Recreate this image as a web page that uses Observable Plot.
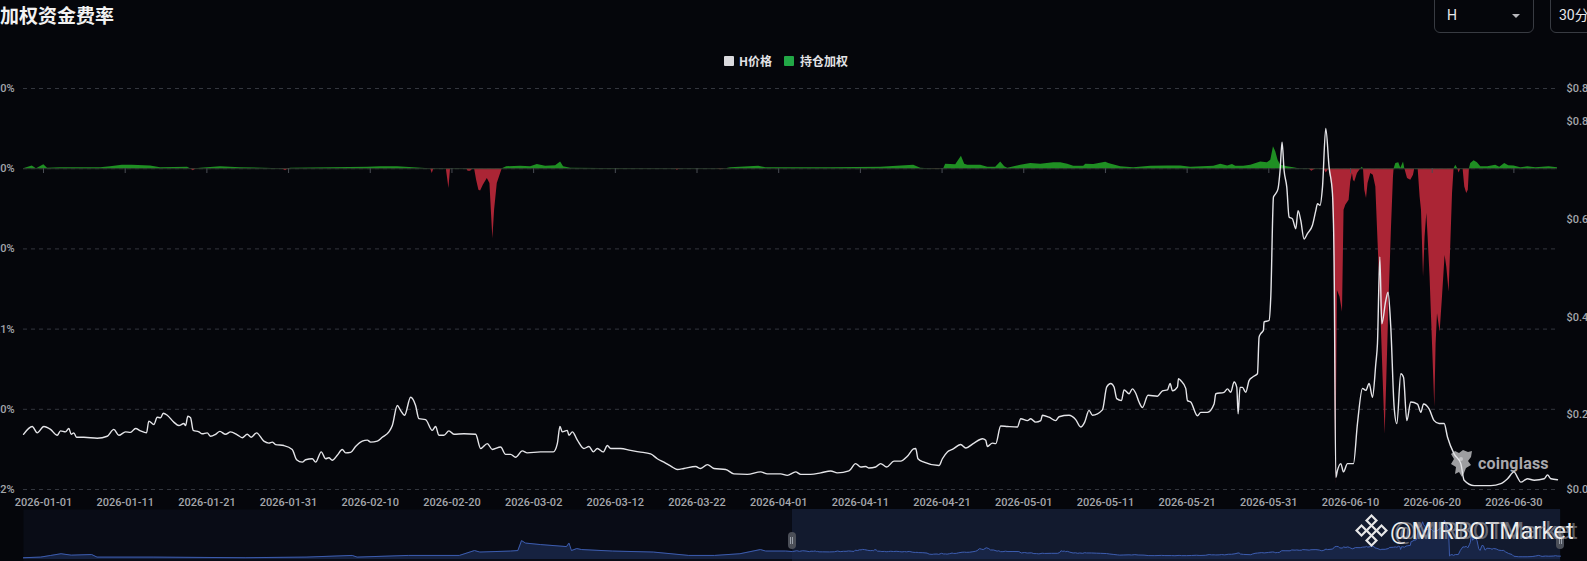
<!DOCTYPE html>
<html>
<head>
<meta charset="utf-8">
<script src="https://cdn.jsdelivr.net/npm/d3@7"></script>
<script src="https://cdn.jsdelivr.net/npm/@observablehq/plot@0.6"></script>
<style>
  html, body { margin:0; padding:0; background:#05060b; width:1587px; height:561px; overflow:hidden; }
  #root { position:relative; width:1587px; height:561px; overflow:hidden; font-family: Roboto, "Noto Sans CJK SC", sans-serif; }
  .abs { position:absolute; }
  #title { left:0; top:4px; font: 700 19px/22px "Noto Sans CJK SC", sans-serif; color:#f2f2f2; white-space:nowrap; }
  .lg-sq { position:absolute; width:10px; height:10px; border-radius:1px; }
  .lg-tx { position:absolute; font: 700 12px/14px "Noto Sans CJK SC", sans-serif; color:#e2e2e6; white-space:nowrap; }
  .box { position:absolute; top:-6px; height:37px; border:1px solid #383b42; border-radius:6px; }
  .boxtx { position:absolute; font: 400 14px/16px Roboto, "Noto Sans CJK SC", sans-serif; color:#e8e8ea; white-space:nowrap; }
  .handle { position:absolute; width:8px; height:17px; border-radius:4px; background:#4b4f58; }
  .handle::before, .handle::after { content:""; position:absolute; top:5px; width:1px; height:7px; background:#9aa0aa; }
  .handle::before { left:2.5px; } .handle::after { left:4.5px; }
</style>
</head>
<body>
<div id="root"></div>
<script>
// ---------------- data ----------------
// day offsets are days since 2026-01-01 00:00 UTC
const xTickLabels = ["2026-01-01","2026-01-11","2026-01-21","2026-01-31","2026-02-10","2026-02-20","2026-03-02","2026-03-12","2026-03-22","2026-04-01","2026-04-11","2026-04-21","2026-05-01","2026-05-11","2026-05-21","2026-05-31","2026-06-10","2026-06-20","2026-06-30"];

// OI-weighted funding rate, in %
const rateSeries = [[-2.45,0],[-1.38,0.00035],[-0.86,0],[0.04,0.00048],[0.49,0.00006],[2.08,0.00013],[6.98,0.00013],[8.20,0.00025],[9.64,0.00044],[10.86,0.00044],[13.10,0.00035],[14.33,0.00013],[17.63,0.00019],[18.0,0],[18.33,-0.00025],[18.7,0],[19.22,0.00006],[21.67,0.00025],[24.12,0.00013],[29.2,0],[29.63,-0.00025],[30.0,0],[30.24,0.00006],[35.14,0.00013],[39.67,0.00019],[41.26,0.00023],[43.35,0.00023],[46.77,0.00003],[47.39,0],[47.59,-0.0006],[47.79,0],[49.31,0],[49.63,-0.00248],[49.83,0],[51.79,0],[51.98,-0.00031],[52.28,-0.00031],[52.61,0],[52.77,0],[53.02,-0.00144],[53.30,-0.00269],[53.51,-0.00278],[53.84,-0.00206],[54.33,-0.00123],[54.65,-0.00185],[54.82,-0.00519],[55.01,-0.00873],[55.22,-0.00519],[55.55,-0.00185],[55.96,-0.0006],[56.16,0],[56.69,0.00025],[58.40,0.00031],[59.63,0.00025],[60.45,0.00053],[61.47,0.00031],[62.69,0.00038],[63.30,0.00085],[63.67,0.00025],[64.53,0.00006],[68.20,0.00003],[77.3,0],[77.59,-0.00019],[78.00,0],[82.41,0],[82.89,-0.00013],[83.51,0],[84.12,0.00013],[87.55,0.00031],[88.40,0.00013],[92.69,0.00013],[96.37,0.00013],[102.48,0.00019],[106.53,0.00044],[107.38,0.00006],[108.5,0],[109.22,-0.00006],[110.20,0],[110.44,0.00056],[111.67,0.0005],[112.37,0.00156],[112.77,0.00056],[113.14,0.00044],[114.73,0.00044],[115.59,0.00019],[116.57,0.00019],[117.18,0.00085],[117.67,0.00023],[118.04,0.00006],[119.63,0.00044],[120.85,0.00065],[122.08,0.00056],[123.67,0.00073],[124.53,0.00073],[125.38,0.00056],[126.12,0.00031],[127.34,0.00031],[127.59,0.00056],[128.57,0.00053],[130.04,0.00081],[130.40,0.00065],[131.87,0.00023],[133.46,0.00013],[135.54,0.00031],[137.63,0.00035],[139.22,0.00035],[140.44,0.00019],[143.26,0.00031],[144.12,0.00056],[144.97,0.00035],[145.55,0.00053],[145.95,0.00031],[146.93,0.00031],[147.79,0.00044],[149.01,0.00085],[149.83,0.00073],[150.24,0.00106],[150.57,0.00273],[150.85,0.0021],[151.13,0.00106],[151.46,0.00044],[152.28,0.00023],[153.05,0.00013],[153.67,0],[154.89,0],[155.26,-0.00031],[155.75,0],[156.73,0],[157.03,-0.00053],[157.38,0],[157.79,-0.00269],[157.99,-0.00935],[158.20,-0.03956],[158.40,-0.01519],[158.72,-0.01603],[159.02,-0.0179],[159.21,-0.00519],[159.42,-0.00456],[159.83,-0.00394],[160.03,-0.00165],[160.24,-0.0006],[160.36,-0.00144],[160.52,-0.00165],[160.85,-0.0006],[161.26,0],[161.44,0.00019],[161.59,0],[161.75,-0.00269],[161.96,-0.00373],[162.15,-0.00185],[162.48,-0.0006],[162.79,-0.00081],[163.10,-0.00228],[163.38,-0.00935],[163.71,-0.01769],[163.99,-0.02603],[164.24,-0.0331],[164.45,-0.02603],[164.73,-0.01603],[165.02,-0.00728],[165.26,-0.00103],[165.34,0],[165.55,0.00065],[165.91,0.00073],[166.16,0.00006],[166.49,0.00085],[166.65,0],[166.98,-0.00123],[167.38,-0.00144],[167.71,-0.00081],[167.87,0],[168.28,0],[168.52,-0.00353],[168.69,-0.00519],[168.94,-0.01353],[169.13,-0.00853],[169.34,-0.0056],[169.50,-0.00853],[169.74,-0.01353],[170.04,-0.02185],[170.32,-0.02978],[170.48,-0.02185],[170.65,-0.0181],[170.97,-0.0204],[171.26,-0.01603],[171.58,-0.01081],[171.79,-0.01228],[172.07,-0.0154],[172.28,-0.00935],[172.49,-0.0031],[172.68,0],[172.89,0.00044],[173.13,0],[173.29,-0.00053],[173.50,0],[173.78,0],[173.99,-0.00228],[174.23,-0.0031],[174.42,-0.00269],[174.56,0],[174.72,0.00065],[175.13,0.00098],[175.54,0.00073],[175.95,0.00023],[176.80,0.00023],[177.78,0.00044],[178.27,0.00019],[178.88,0.00065],[179.37,0.00038],[180.02,0.00035],[180.84,0.00013],[181.70,0.00023],[182.68,0.00013],[184.31,0.00023],[185.34,0.00013]];

// H price, USD
const priceSeries = [[-2.45,0.160],[-1.38,0.176],[-0.77,0.163],[0.04,0.176],[0.86,0.170],[1.68,0.158],[2.08,0.167],[2.69,0.165],[3.10,0.172],[3.39,0.160],[3.71,0.163],[4.04,0.154],[4.93,0.154],[6.58,0.152],[7.80,0.156],[8.61,0.170],[9.22,0.158],[10.04,0.165],[10.65,0.164],[11.27,0.172],[11.88,0.167],[12.61,0.163],[12.89,0.187],[13.51,0.180],[13.92,0.195],[14.33,0.194],[14.66,0.203],[15.15,0.199],[15.95,0.185],[16.57,0.178],[17.18,0.182],[17.39,0.178],[17.67,0.197],[18.00,0.194],[18.33,0.168],[19.02,0.165],[19.42,0.161],[20.04,0.163],[20.45,0.156],[21.06,0.160],[21.59,0.166],[22.28,0.160],[22.90,0.165],[23.72,0.159],[24.33,0.153],[24.94,0.160],[25.43,0.154],[26.08,0.163],[26.97,0.146],[27.59,0.142],[28.00,0.144],[28.41,0.139],[29.42,0.137],[30.45,0.129],[30.98,0.108],[31.68,0.103],[32.08,0.108],[32.90,0.110],[33.31,0.103],[34.00,0.124],[34.53,0.110],[34.93,0.112],[35.35,0.107],[35.96,0.117],[36.57,0.129],[36.98,0.122],[37.59,0.123],[38.20,0.135],[39.02,0.146],[39.64,0.148],[40.04,0.144],[40.86,0.146],[41.47,0.154],[42.28,0.165],[42.70,0.178],[43.31,0.219],[43.71,0.209],[44.20,0.199],[44.94,0.236],[45.55,0.219],[45.95,0.192],[46.77,0.190],[47.59,0.168],[48.00,0.176],[48.40,0.158],[49.01,0.158],[49.63,0.167],[50.24,0.160],[51.46,0.161],[52.90,0.160],[53.51,0.131],[54.33,0.141],[54.94,0.129],[55.96,0.134],[56.57,0.119],[57.18,0.119],[57.79,0.113],[58.61,0.126],[59.22,0.122],[60.85,0.124],[62.41,0.124],[62.90,0.141],[63.22,0.176],[63.51,0.165],[64.12,0.168],[64.32,0.158],[64.74,0.165],[65.35,0.148],[66.16,0.131],[66.77,0.135],[67.31,0.124],[67.80,0.131],[68.53,0.124],[69.02,0.137],[69.43,0.131],[70.65,0.131],[71.87,0.127],[72.89,0.124],[74.32,0.120],[75.14,0.110],[75.95,0.103],[76.98,0.093],[77.59,0.088],[78.40,0.090],[79.83,0.094],[80.45,0.090],[81.27,0.098],[82.07,0.090],[83.51,0.088],[84.52,0.079],[86.16,0.078],[87.79,0.083],[88.61,0.079],[90.24,0.079],[91.06,0.076],[92.08,0.083],[92.69,0.078],[93.91,0.078],[95.14,0.081],[96.37,0.085],[97.18,0.081],[98.60,0.085],[99.42,0.100],[100.04,0.093],[100.65,0.094],[101.05,0.091],[101.87,0.093],[102.48,0.100],[103.22,0.093],[104.11,0.105],[104.93,0.105],[105.75,0.115],[106.49,0.130],[106.77,0.131],[107.05,0.110],[107.79,0.103],[109.62,0.096],[110.04,0.110],[110.65,0.124],[111.26,0.129],[112.28,0.139],[112.89,0.132],[113.91,0.142],[114.94,0.151],[115.34,0.148],[115.55,0.135],[116.16,0.142],[116.57,0.141],[117.18,0.177],[118.00,0.176],[119.22,0.175],[119.63,0.192],[120.45,0.188],[120.85,0.192],[121.46,0.185],[122.08,0.188],[122.28,0.199],[123.09,0.195],[123.91,0.188],[124.32,0.196],[125.54,0.199],[126.36,0.190],[126.97,0.175],[127.46,0.185],[127.99,0.209],[128.41,0.199],[129.63,0.210],[130.16,0.257],[130.65,0.264],[131.05,0.257],[131.38,0.233],[131.96,0.229],[132.28,0.251],[132.89,0.243],[133.30,0.253],[133.71,0.244],[134.11,0.226],[134.53,0.215],[135.21,0.240],[136.37,0.238],[136.98,0.249],[137.59,0.251],[137.91,0.264],[138.21,0.249],[138.82,0.257],[138.94,0.274],[139.22,0.270],[139.83,0.254],[140.04,0.229],[140.44,0.226],[141.26,0.198],[141.67,0.205],[142.49,0.205],[143.30,0.222],[143.51,0.243],[144.52,0.246],[144.94,0.253],[145.34,0.246],[145.75,0.267],[146.08,0.256],[146.24,0.202],[146.48,0.256],[146.77,0.256],[147.18,0.246],[147.58,0.270],[148.00,0.277],[148.61,0.284],[148.81,0.359],[149.01,0.366],[149.34,0.373],[149.42,0.390],[150.03,0.393],[150.24,0.441],[150.57,0.646],[150.85,0.653],[151.13,0.663],[151.38,0.700],[151.62,0.758],[151.87,0.700],[152.20,0.666],[152.48,0.605],[152.89,0.601],[153.30,0.581],[153.58,0.618],[153.91,0.598],[154.31,0.560],[154.73,0.571],[155.34,0.588],[155.75,0.618],[155.96,0.632],[156.27,0.629],[156.57,0.666],[156.97,0.786],[157.38,0.707],[157.79,0.653],[157.99,0.516],[158.20,0.072],[158.40,0.086],[158.81,0.100],[159.14,0.083],[159.63,0.100],[160.36,0.100],[160.85,0.182],[161.47,0.254],[161.87,0.250],[162.28,0.264],[162.69,0.236],[163.10,0.305],[163.30,0.346],[163.59,0.523],[163.83,0.386],[164.32,0.434],[164.60,0.451],[164.93,0.380],[165.34,0.216],[165.67,0.182],[166.16,0.284],[166.49,0.277],[166.89,0.188],[167.38,0.226],[168.20,0.222],[168.61,0.205],[168.94,0.222],[169.62,0.212],[170.24,0.188],[170.85,0.182],[171.46,0.182],[171.88,0.154],[172.68,0.120],[173.50,0.100],[173.91,0.066],[175.13,0.055],[175.95,0.055],[177.18,0.055],[178.40,0.059],[179.22,0.069],[180.02,0.083],[180.44,0.072],[180.84,0.062],[181.66,0.069],[182.49,0.066],[183.71,0.069],[184.12,0.077],[184.53,0.069],[185.34,0.067]];

// earlier price history shown only in the zoom slider (2025)
const overviewSeries = [[-190.48,0.036],[-186.3,0.048],[-183.8,0.082],[-181.3,0.116],[-178.8,0.088],[-173.8,0.10],[-172.5,0.048],[-158.8,0.048],[-136.3,0.036],[-121.4,0.048],[-110.1,0.082],[-108.9,0.048],[-96.4,0.082],[-83.9,0.082],[-80.2,0.18],[-78.9,0.15],[-71.4,0.17],[-69.6,0.18],[-68.7,0.38],[-67.7,0.33],[-64.0,0.30],[-57.7,0.26],[-57.1,0.33],[-56.5,0.18],[-55.2,0.22],[-54.0,0.20],[-46.5,0.17],[-36.5,0.15],[-27.8,0.082],[-21.5,0.082],[-15.3,0.116],[-10.3,0.20],[-9.0,0.17],[-4.1,0.17]];

// axes
const rateTicks = [0.01, 0, -0.01, -0.02, -0.03, -0.04];
const rateTickText = ["0.010%", "0.000%", "-0.010%", "-0.021%", "-0.030%", "-0.042%"];
const priceAxisMin = 0.047, priceAxisMax = 0.868;
const priceTicks = [0.047, 0.2, 0.4, 0.6, 0.8, 0.868];

// colours
const C = {bg:"#05060b", grid:"#33363e", text:"#a4a6ab", green:"#1f8f23", red:"#ab2535", price:"#e4e4e8", legendGreen:"#22a746", legendGray:"#dadade"};

// ---------------- build ----------------
const root = document.getElementById("root");
const DAY = 864e5, T0 = Date.UTC(2026, 0, 1);
const toDate = d => new Date(T0 + d * DAY);
const rate = rateSeries.map(([d, v]) => ({date: toDate(d), v}));
const price = priceSeries.map(([d, p]) => ({date: toDate(d), p}));
const overview = overviewSeries.map(([d, p]) => ({date: toDate(d), p})).concat(price);
const xDomain = d3.extent(rate, d => d.date);
const xTicks = xTickLabels.map(s => new Date(s + "T00:00:00Z"));
const rateLabel = new Map(rateTicks.map((t, i) => [t, rateTickText[i]]));

const W = 1587, H = 561;
const frameOpts = {width: W, height: H, marginTop: 88, marginBottom: 72, marginLeft: 23, marginRight: 30};
const baseStyle = {background: "transparent", color: C.text, fontFamily: "Roboto, 'Noto Sans CJK SC', sans-serif", fontSize: "11px"};

function place(el, z) { el.style.position = "absolute"; el.style.left = "0px"; el.style.top = "0px"; el.style.zIndex = z; root.appendChild(el); return el; }

// funding-rate layer
const chart1 = Plot.plot({
  ...frameOpts, style: baseStyle,
  x: {type: "utc", domain: xDomain, label: null},
  y: {domain: [-0.04, 0.01], label: null},
  marks: [
    Plot.gridY(rateTicks, {stroke: C.grid, strokeOpacity: 1, strokeDasharray: "4,4"}),
    Plot.areaY(rate, {x: "date", y: d => Math.max(0, d.v), fill: C.green}),
    Plot.areaY(rate, {x: "date", y: d => Math.min(0, d.v), fill: C.red}),
    Plot.ruleY([0], {stroke: "#2d3a2e", strokeWidth: 1}),
    Plot.ruleX(xTicks, {y1: 0, y2: -0.0006, stroke: "#4a4d55"}),
    Plot.axisX(xTicks, {anchor: "bottom", label: null, tickSize: 0, tickPadding: 9, tickFormat: d3.utcFormat("%Y-%m-%d"), fill: C.text, fontWeight: 500, fontSize: 11}),
    Plot.axisY(rateTicks, {anchor: "left", label: null, tickSize: 0, tickPadding: 9, tickFormat: d => rateLabel.get(d), fill: C.text, fontWeight: 500, fontSize: 11})
  ]
});
place(chart1, 1);

// coinglass watermark (under the price line)
const cg = document.createElement("div");
cg.style.cssText = "position:absolute;left:1449px;top:449px;z-index:2;display:flex;align-items:center;gap:4px;";
cg.innerHTML = '<svg width="25" height="29" viewBox="0 0 25 29"><path d="M2 5 L6 2 L10 4 L14 1 L19 3 L23 2 L22 8 L19 12 L22 16 L17 19 L15 24 L13 28 L10 23 L6 25 L7 18 L2 15 L5 10 Z" fill="#9d9da0"/><circle cx="12" cy="10" r="2" fill="#c4c4c7"/></svg>' +
  '<span style="font:700 16px/18px Roboto,sans-serif;color:#a9a9ad;letter-spacing:0.2px;">coinglass</span>';
root.appendChild(cg);

// price layer
const chart2 = Plot.plot({
  ...frameOpts, style: baseStyle,
  x: {type: "utc", domain: xDomain, axis: null, label: null},
  y: {domain: [priceAxisMin, priceAxisMax], label: null},
  marks: [
    Plot.line(price, {x: "date", y: "p", stroke: C.price, strokeWidth: 1.4, curve: "monotone-x"}),
    Plot.axisY(priceTicks, {anchor: "right", label: null, tickSize: 0, tickPadding: 9, tickFormat: d => "$" + d, fill: C.text, fontWeight: 500, fontSize: 11})
  ]
});
place(chart2, 3);

// zoom slider
const slider = Plot.plot({
  width: W, height: 60, marginTop: 0, marginBottom: 0, marginLeft: 23, marginRight: 27,
  style: {background: "transparent"},
  x: {type: "utc", domain: d3.extent(overview, d => d.date), axis: null},
  y: {domain: [0, 0.785], range: [50, 11], axis: null},
  marks: [
    Plot.frame({fill: "#090c16", stroke: null}),
    Plot.rect([{a: xDomain[0], b: xDomain[1]}], {x1: "a", x2: "b", fill: "#121a2e"}),
    Plot.areaY(overview, {x: "date", y: "p", fill: "#1b2a4f", fillOpacity: 0.75}),
    Plot.line(overview, {x: "date", y: "p", stroke: "#3c5cae", strokeWidth: 1})
  ]
});
place(slider, 4);
slider.style.top = "509px";
const sx = slider.scale("x");
for (const d of xDomain) {
  const h = document.createElement("div");
  h.className = "handle";
  h.style.left = (sx.apply(d) - 4) + "px";
  h.style.top = "532px";
  h.style.zIndex = 5;
  root.appendChild(h);
}

// bottom-right watermark
const wm = document.createElement("div");
wm.style.cssText = "position:absolute;left:1355px;top:514px;z-index:6;display:flex;align-items:center;gap:2px;white-space:nowrap;";
wm.innerHTML = '<svg width="33" height="33" viewBox="0 0 33 33"><g fill="none" stroke="#e6e6e6" stroke-width="2.2">' +
  '<rect x="13" y="13" width="7" height="7" transform="rotate(45 16.5 16.5)"/>' +
  '<rect x="13" y="3" width="7" height="7" transform="rotate(45 16.5 6.5)"/>' +
  '<rect x="13" y="23" width="7" height="7" transform="rotate(45 16.5 26.5)"/>' +
  '<rect x="3" y="13" width="7" height="7" transform="rotate(45 6.5 16.5)"/>' +
  '<rect x="23" y="13" width="7" height="7" transform="rotate(45 26.5 16.5)"/></g></svg>' +
  '<span style="position:relative;font:400 24px/28px Roboto,sans-serif;color:#f0f0f0;">@MIRBOTMarket' +
  '<span style="position:absolute;left:4px;top:0;color:rgba(170,170,175,0.55);">@MIRBOTMarket</span></span>';
root.appendChild(wm);

// title
const title = document.createElement("div");
title.id = "title"; title.className = "abs"; title.style.zIndex = 7;
title.textContent = "加权资金费率";
root.appendChild(title);

// legend
const legendItems = [
  {sq: C.legendGray, label: "H价格", sx: 724, tx: 739},
  {sq: C.legendGreen, label: "持仓加权", sx: 784, tx: 800}
];
for (const it of legendItems) {
  const s = document.createElement("div");
  s.className = "lg-sq"; s.style.left = it.sx + "px"; s.style.top = "56px"; s.style.background = it.sq; s.style.zIndex = 7;
  root.appendChild(s);
  const t = document.createElement("div");
  t.className = "lg-tx"; t.style.left = it.tx + "px"; t.style.top = "54px"; t.style.zIndex = 7;
  t.textContent = it.label;
  root.appendChild(t);
}

// top-right controls
const controls = [
  {left: 1434, width: 98, text: "H", caret: true},
  {left: 1550, width: 80, text: "30分", caret: false}
];
for (const c of controls) {
  const b = document.createElement("div");
  b.className = "box"; b.style.left = c.left + "px"; b.style.width = c.width + "px"; b.style.zIndex = 7;
  root.appendChild(b);
  const t = document.createElement("div");
  t.className = "boxtx"; t.style.left = (c.left + (c.caret ? 13 : 9)) + "px"; t.style.top = "7px"; t.style.zIndex = 7;
  t.textContent = c.text;
  root.appendChild(t);
  if (c.caret) {
    const k = document.createElement("div");
    k.style.cssText = "position:absolute;left:1512px;top:14px;width:0;height:0;border-left:4px solid transparent;border-right:4px solid transparent;border-top:4px solid #b8b8bc;z-index:7;";
    root.appendChild(k);
  }
}
</script>
</body>
</html>
